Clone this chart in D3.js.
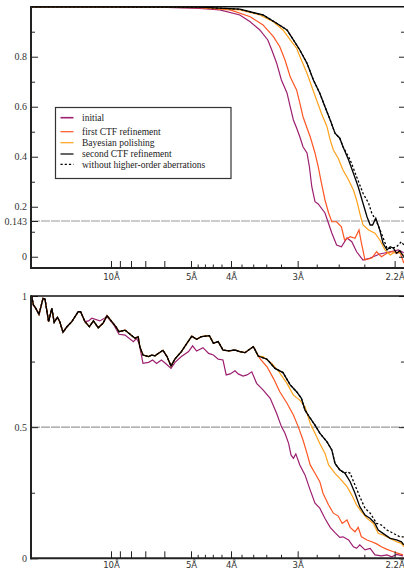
<!DOCTYPE html>
<html>
<head>
<meta charset="utf-8">
<script src="https://cdn.jsdelivr.net/npm/d3@7"></script>
<style>
  body { margin: 0; background: #fff; }
  svg { display: block; }
</style>
</head>
<body>
<div id="chart"></div>
<script>
// FSC curves, two panels (top: FSC, bottom: second panel), x = 1/resolution
const W = 404, H = 574;

// ---------- data (x in 1/Å, y = correlation) ----------
const seriesNames = ["initial", "first CTF refinement", "Bayesian polishing",
  "second CTF refinement", "without higher-order aberrations"];

const resTicksMajor = [10, 9, 8, 7, 6, 5, 4, 3, 2.2];
const resTicksMinor = [4.8, 4.6, 4.4, 4.2, 3.8, 3.6, 3.4, 3.2, 2.8, 2.6, 2.4];
const resLabels = { 10: "10Å", 5: "5Å", 4: "4Å", 3: "3Å", 2.2: "2.2Å" };

const topYTicks = [0, 0.143, 0.2, 0.4, 0.6, 0.8];
const topYMinor = [0.1, 0.3, 0.5, 0.7, 0.9];
const bottomYTicks = [0, 0.5, 1];
const bottomYMinor = [0.25, 0.75];

const initialTop = [[0,0.999],[0.06,0.999],[0.12,0.998],[0.17,0.997],[0.211,0.993],[0.236,0.987],[0.261,0.967],[0.274,0.940],[0.286,0.907],[0.296,0.867],[0.301,0.827],[0.307,0.775],[0.313,0.707],[0.320,0.655],[0.324,0.600],[0.328,0.547],[0.332,0.515],[0.336,0.480],[0.340,0.440],[0.345,0.415],[0.348,0.360],[0.351,0.280],[0.355,0.220],[0.359,0.211],[0.3675,0.175],[0.376,0.095],[0.382,0.047],[0.388,0.040],[0.395,0.075],[0.401,0.060],[0.407,0.020],[0.415,-0.013],[0.424,-0.005],[0.436,0.011],[0.449,0.020],[0.459,0.027],[0.466,0.016]];
const firstTop = [[0,0.999],[0.08,0.999],[0.15,0.998],[0.211,0.996],[0.249,0.987],[0.274,0.960],[0.290,0.927],[0.303,0.880],[0.311,0.840],[0.3175,0.787],[0.324,0.720],[0.332,0.667],[0.336,0.615],[0.340,0.560],[0.345,0.515],[0.349,0.480],[0.355,0.415],[0.359,0.360],[0.363,0.295],[0.3675,0.227],[0.372,0.175],[0.376,0.140],[0.382,0.140],[0.388,0.120],[0.392,0.067],[0.399,0.080],[0.405,0.074],[0.410,0.107],[0.413,0.055],[0.4175,-0.013],[0.426,-0.005],[0.432,0.020],[0.438,0.000],[0.445,0.014],[0.451,0.020],[0.457,0.014],[0.461,0.020],[0.466,-0.025]];
const bayesTop = [[0,0.999],[0.10,0.999],[0.211,0.997],[0.261,0.987],[0.286,0.967],[0.303,0.940],[0.315,0.907],[0.324,0.867],[0.332,0.834],[0.338,0.787],[0.345,0.734],[0.351,0.680],[0.357,0.627],[0.363,0.574],[0.370,0.520],[0.374,0.467],[0.378,0.427],[0.384,0.394],[0.390,0.347],[0.397,0.307],[0.403,0.267],[0.407,0.227],[0.411,0.174],[0.415,0.127],[0.422,0.107],[0.430,0.094],[0.436,0.067],[0.4425,0.027],[0.449,0.007],[0.455,0.020],[0.461,0.014],[0.466,0.007]];
const secondTop = [[0,0.999],[0.10,0.999],[0.211,0.998],[0.261,0.990],[0.290,0.967],[0.307,0.934],[0.320,0.907],[0.328,0.867],[0.336,0.827],[0.345,0.774],[0.353,0.707],[0.361,0.654],[0.3675,0.600],[0.374,0.547],[0.380,0.494],[0.386,0.474],[0.390,0.440],[0.397,0.387],[0.403,0.334],[0.409,0.280],[0.415,0.214],[0.420,0.160],[0.424,0.127],[0.427,0.127],[0.431,0.154],[0.436,0.107],[0.440,0.054],[0.445,0.027],[0.449,0.040],[0.453,0.034],[0.457,0.014],[0.461,0.024],[0.466,0.000]];
const withoutTopTail = [[0.399,0.387],[0.407,0.320],[0.415,0.254],[0.422,0.214],[0.426,0.174],[0.432,0.140],[0.438,0.094],[0.445,0.034],[0.451,0.034],[0.457,0.040],[0.463,0.060],[0.466,0.047]];

// bottom panel: black, red and orange overlap up to ~0.28
const commonBottom = [[0,1.0],[0.001,0.997],[0.003,0.966],[0.006,0.953],[0.010,0.930],[0.015,0.991],[0.0175,0.988],[0.022,0.902],[0.026,0.953],[0.029,0.900],[0.033,0.919],[0.036,0.902],[0.040,0.862],[0.045,0.883],[0.051,0.902],[0.059,0.940],[0.062,0.940],[0.0675,0.902],[0.073,0.883],[0.078,0.905],[0.084,0.879],[0.090,0.896],[0.095,0.925],[0.101,0.902],[0.106,0.883],[0.110,0.864],[0.1175,0.870],[0.125,0.851],[0.130,0.839],[0.134,0.845],[0.136,0.807],[0.140,0.775],[0.147,0.769],[0.151,0.775],[0.155,0.772],[0.159,0.781],[0.165,0.793],[0.170,0.769],[0.175,0.733],[0.180,0.760],[0.188,0.788],[0.195,0.820],[0.201,0.847],[0.207,0.835],[0.213,0.845],[0.223,0.849],[0.228,0.820],[0.234,0.826],[0.240,0.794],[0.247,0.791],[0.255,0.794],[0.261,0.788],[0.2675,0.784],[0.272,0.794],[0.278,0.807]];
const secondBottomTail = [[0.284,0.771],[0.295,0.759],[0.305,0.724],[0.315,0.708],[0.324,0.661],[0.332,0.635],[0.338,0.610],[0.3425,0.565],[0.349,0.534],[0.355,0.508],[0.361,0.477],[0.370,0.444],[0.376,0.413],[0.380,0.362],[0.386,0.337],[0.3925,0.324],[0.399,0.292],[0.405,0.248],[0.411,0.197],[0.4175,0.165],[0.424,0.152],[0.430,0.133],[0.434,0.108],[0.440,0.095],[0.449,0.076],[0.457,0.070],[0.463,0.063],[0.466,0.051]];
const bayesBottomTail = [[0.284,0.771],[0.290,0.769],[0.301,0.743],[0.309,0.715],[0.320,0.667],[0.328,0.622],[0.336,0.603],[0.3425,0.578],[0.349,0.515],[0.355,0.477],[0.361,0.438],[0.3675,0.400],[0.372,0.356],[0.380,0.324],[0.386,0.305],[0.395,0.273],[0.401,0.241],[0.407,0.203],[0.413,0.178],[0.420,0.152],[0.428,0.133],[0.434,0.095],[0.440,0.089],[0.449,0.076],[0.457,0.063],[0.463,0.057],[0.466,0.044]];
const firstBottomTail = [[0.286,0.762],[0.295,0.730],[0.303,0.686],[0.311,0.635],[0.320,0.591],[0.328,0.546],[0.334,0.502],[0.340,0.451],[0.345,0.400],[0.349,0.356],[0.355,0.324],[0.361,0.292],[0.365,0.248],[0.372,0.203],[0.378,0.172],[0.384,0.161],[0.389,0.133],[0.395,0.146],[0.399,0.118],[0.405,0.101],[0.409,0.118],[0.413,0.082],[0.420,0.070],[0.426,0.063],[0.432,0.055],[0.438,0.044],[0.445,0.034],[0.453,0.025],[0.459,0.019],[0.465,0.013]];
const initialBottomTail = [[0.072,0.905],[0.076,0.915],[0.086,0.905],[0.095,0.921],[0.103,0.892],[0.110,0.854],[0.1175,0.851],[0.128,0.826],[0.132,0.839],[0.135,0.820],[0.140,0.743],[0.147,0.747],[0.152,0.756],[0.157,0.743],[0.163,0.756],[0.169,0.741],[0.175,0.724],[0.180,0.747],[0.188,0.769],[0.197,0.788],[0.202,0.810],[0.207,0.790],[0.215,0.803],[0.222,0.781],[0.228,0.775],[0.234,0.759],[0.240,0.756],[0.244,0.699],[0.249,0.703],[0.255,0.715],[0.259,0.703],[0.265,0.695],[0.270,0.699],[0.276,0.711],[0.282,0.667],[0.290,0.642],[0.299,0.610],[0.307,0.553],[0.313,0.502],[0.3175,0.477],[0.322,0.438],[0.325,0.394],[0.328,0.381],[0.331,0.398],[0.336,0.356],[0.3425,0.318],[0.349,0.260],[0.355,0.210],[0.361,0.191],[0.3675,0.152],[0.374,0.118],[0.380,0.098],[0.386,0.080],[0.390,0.082],[0.397,0.070],[0.403,0.044],[0.407,0.038],[0.411,0.051],[0.4175,0.032],[0.424,0.038],[0.430,0.013],[0.438,0.009],[0.445,0.013],[0.451,0.006],[0.457,0.015],[0.465,0.009]];
const withoutBottomTail = [[0.395,0.330],[0.399,0.324],[0.405,0.279],[0.411,0.235],[0.4175,0.191],[0.424,0.172],[0.432,0.133],[0.438,0.127],[0.445,0.108],[0.453,0.095],[0.461,0.082],[0.466,0.082]];

// assemble series in legend order (the overlapping parts are one line in the picture)
const secondBottom = commonBottom.concat(secondBottomTail);
const topSeries = [initialTop, firstTop, bayesTop, secondTop,
  secondTop.filter(d => d[0] <= 0.390).concat(withoutTopTail)];
const bottomSeries = [
  commonBottom.filter(d => d[0] <= 0.0675).concat(initialBottomTail),
  commonBottom.concat(firstBottomTail),
  commonBottom.concat(bayesBottomTail),
  secondBottom,
  secondBottom.filter(d => d[0] <= 0.3925).concat(withoutBottomTail)
];

const colors = ["#9c1f70", "#ff5522", "#ffa21c", "#000", "#000"];
const dashes = [null, null, null, null, "2.2,2"];
const drawOrder = [0, 1, 2, 4, 3];

// ---------- layout ----------
const svg = d3.select("#chart").append("svg").attr("width", W).attr("height", H);
const x = d3.scaleLinear().domain([0, 0.46625]).range([31, 404]);
const axisColor = "#222";

function drawPanel(cfg) {
  const y = d3.scaleLinear().domain(cfg.domain).range([cfg.bottom, cfg.top]);
  const g = svg.append("g");

  // reference threshold line
  g.append("line")
    .attr("x1", 31).attr("x2", 404)
    .attr("y1", y(cfg.ref)).attr("y2", y(cfg.ref))
    .attr("stroke", "#999").attr("stroke-width", 1.2)
    .attr("stroke-dasharray", "9,1");

  // curves
  const line = d3.line().x(d => x(d[0])).y(d => y(d[1]));
  drawOrder.forEach(i => {
    g.append("path")
      .attr("d", line(cfg.series[i]))
      .attr("fill", "none")
      .attr("stroke", colors[i])
      .attr("stroke-width", i >= 3 ? 1.3 : 1.2)
      .attr("stroke-dasharray", dashes[i]);
  });

  // y axis, left (ticks inward)
  const yAxis = d3.axisLeft(y).tickValues(cfg.yTicks).tickSize(-7).tickPadding(4)
    .tickFormat(d => d === 0.143 ? "0.143" : d3.format("")(d));
  const ya = g.append("g").attr("transform", "translate(31,0)").call(yAxis);
  ya.select(".domain").remove();
  ya.selectAll("line").attr("stroke", axisColor);
  ya.selectAll("text").attr("font-family", "Liberation Serif, serif")
    .attr("font-size", 10).attr("fill", "#333");
  const yMinor = g.append("g").attr("transform", "translate(31,0)")
    .call(d3.axisLeft(y).tickValues(cfg.yMinor).tickSize(-4).tickFormat(""));
  yMinor.select(".domain").remove();
  yMinor.selectAll("line").attr("stroke", axisColor);

  // right axis ticks (inward)
  const yr = g.append("g").attr("transform", "translate(404,0)")
    .call(d3.axisRight(y).tickValues(cfg.yTicks.filter(v => v !== 0.143)).tickSize(-5).tickFormat(""));
  yr.select(".domain").remove();
  yr.selectAll("line").attr("stroke", axisColor);
  const yr2 = g.append("g").attr("transform", "translate(404,0)")
    .call(d3.axisRight(y).tickValues(cfg.yMinor).tickSize(-3).tickFormat(""));
  yr2.select(".domain").remove();
  yr2.selectAll("line").attr("stroke", axisColor);

  // x axis (resolution ticks, pointing up)
  const xa = g.append("g").attr("transform", `translate(0,${cfg.bottom})`)
    .call(d3.axisBottom(x).tickValues(resTicksMajor.map(r => 1 / r))
      .tickSize(-7).tickPadding(cfg.labelPad)
      .tickFormat((d, i) => resLabels[resTicksMajor[i]] || ""));
  xa.select(".domain").remove();
  xa.selectAll("line").attr("stroke", axisColor);
  xa.selectAll("text").attr("font-family", "DejaVu Sans, sans-serif")
    .attr("font-size", 8.5).attr("fill", "#333");
  const xm = g.append("g").attr("transform", `translate(0,${cfg.bottom})`)
    .call(d3.axisBottom(x).tickValues(resTicksMinor.map(r => 1 / r)).tickSize(-3.5).tickFormat(""));
  xm.select(".domain").remove();
  xm.selectAll("line").attr("stroke", axisColor);

  // frame
  g.append("line").attr("x1", 31).attr("x2", 405).attr("y1", cfg.top).attr("y2", cfg.top)
    .attr("stroke", "#111").attr("stroke-width", 1.4);
  g.append("line").attr("x1", 31).attr("x2", 31).attr("y1", cfg.top - 0.7).attr("y2", cfg.bottom + 1)
    .attr("stroke", axisColor).attr("stroke-width", 2);
  g.append("line").attr("x1", 30).attr("x2", 405).attr("y1", cfg.bottom).attr("y2", cfg.bottom)
    .attr("stroke", axisColor).attr("stroke-width", 2);
  return g;
}

drawPanel({ top: 6.7, bottom: 268, domain: [-0.045, 1], ref: 0.143, labelPad: 6,
  yTicks: topYTicks, yMinor: topYMinor, series: topSeries });
drawPanel({ top: 296, bottom: 558.3, domain: [0, 1], ref: 0.5, labelPad: 4,
  yTicks: bottomYTicks, yMinor: bottomYMinor, series: bottomSeries });

// ---------- legend ----------
const legendY = [117.7, 131.7, 142.7, 154, 164.3];
const lg = svg.append("g");
lg.append("rect").attr("x", 55.5).attr("y", 107.5).attr("width", 175.5).attr("height", 71)
  .attr("fill", "#fff").attr("stroke", "#333").attr("stroke-width", 1.2);
seriesNames.forEach((name, i) => {
  lg.append("line").attr("x1", 60.5).attr("x2", 73.5)
    .attr("y1", legendY[i]).attr("y2", legendY[i])
    .attr("stroke", colors[i]).attr("stroke-width", i === 0 ? 1.6 : 1.2)
    .attr("stroke-dasharray", dashes[i]);
  lg.append("text").attr("x", 82).attr("y", legendY[i] + 3.2)
    .attr("font-family", "Liberation Serif, serif").attr("font-size", 9.5)
    .attr("fill", "#222").text(name);
});
</script>
</body>
</html>
